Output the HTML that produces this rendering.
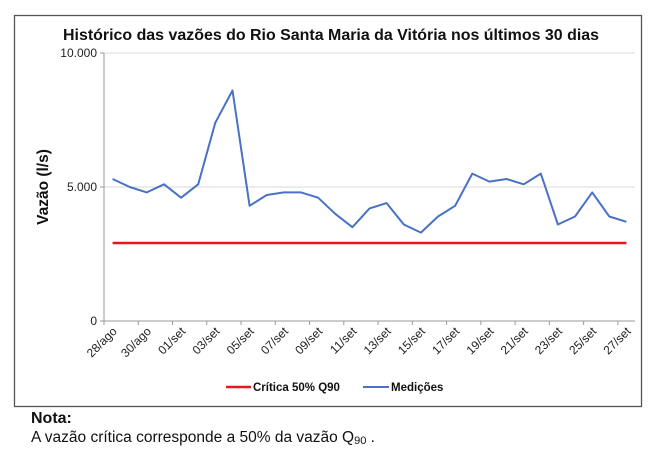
<!DOCTYPE html>
<html><head><meta charset="utf-8"><style>
body{margin:0;background:#fff;width:662px;height:450px;overflow:hidden;font-family:"Liberation Sans",Arial,sans-serif}
</style></head><body>
<svg width="662" height="450" xmlns="http://www.w3.org/2000/svg" font-family="Liberation Sans, Arial, sans-serif">
<rect x="14.5" y="15.5" width="627" height="391" fill="#fff" stroke="#555" stroke-width="1.3"/>
<text x="331" y="40" text-anchor="middle" font-size="16" font-weight="bold" fill="#111" textLength="536" lengthAdjust="spacingAndGlyphs">Histórico das vazões do Rio Santa Maria da Vitória nos últimos 30 dias</text>
<line x1="104" y1="53" x2="635" y2="53" stroke="#d9d9d9"/>
<line x1="104" y1="187" x2="635" y2="187" stroke="#d9d9d9"/>
<line x1="104" y1="53" x2="104" y2="321" stroke="#999"/>
<line x1="100" y1="321" x2="635" y2="321" stroke="#999"/>
<line x1="100" y1="53" x2="104" y2="53" stroke="#999"/>
<line x1="100" y1="187" x2="104" y2="187" stroke="#999"/>
<g font-size="12" fill="#222" text-anchor="end">
<text x="97" y="57">10.000</text><text x="97" y="191">5.000</text><text x="97" y="325">0</text>
</g>
<text transform="translate(48,187) rotate(-90)" text-anchor="middle" font-size="15.5" font-weight="bold" fill="#111">Vazão (l/s)</text>
<g stroke="#999" id="ticks"></g>
<polyline fill="none" stroke="#e31a1c" stroke-width="2.5" points="112.6,243 626.4,243"/>
<polyline id="meas" fill="none" stroke="#4a72c4" stroke-width="2" stroke-linejoin="round"/>
<g id="xl" font-size="12" fill="#222"></g>
<line x1="226" y1="387" x2="251" y2="387" stroke="#e31a1c" stroke-width="2.5"/>
<text x="253" y="391" font-size="11.5" font-weight="bold" fill="#111">Crítica 50% Q90</text>
<line x1="363" y1="387" x2="389" y2="387" stroke="#4a72c4" stroke-width="2"/>
<text x="391" y="391" font-size="11.5" font-weight="bold" fill="#111">Medições</text>
<text x="31" y="423" font-size="16" font-weight="bold" fill="#111">Nota:</text>
<text x="31" y="442" font-size="15.5" fill="#111">A vazão crítica corresponde a 50% da vazão Q<tspan font-size="11" dy="2">90</tspan><tspan dy="-2"> .</tspan></text>
</svg>
<script>
var v=[5300,5000,4800,5100,4600,5100,7400,8600,4300,4700,4800,4800,4600,4000,3500,4200,4400,3600,3300,3900,4300,5500,5200,5300,5100,5500,3600,3900,4800,3900,3700];
var w=531/31,p=[];
v.forEach(function(d,i){p.push((104+w*(i+0.5)).toFixed(1)+","+(321-d*0.0268).toFixed(1));});
document.getElementById('meas').setAttribute('points',p.join(' '));
var ns="http://www.w3.org/2000/svg",t=document.getElementById('ticks'),xl=document.getElementById('xl');
var labs=["28/ago","30/ago","01/set","03/set","05/set","07/set","09/set","11/set","13/set","15/set","17/set","19/set","21/set","23/set","25/set","27/set"];
for(var k=0;k<=16;k++){var x=104+w*2*k;if(x>636)break;var l=document.createElementNS(ns,'line');l.setAttribute('x1',x);l.setAttribute('x2',x);l.setAttribute('y1',321);l.setAttribute('y2',325);t.appendChild(l);}
labs.forEach(function(s,k){var x=104+w*(2*k+0.5)+5;var e=document.createElementNS(ns,'text');e.setAttribute('text-anchor','end');e.setAttribute('transform','translate('+x+',332) rotate(-45)');e.textContent=s;xl.appendChild(e);});
</script>
</body></html>
